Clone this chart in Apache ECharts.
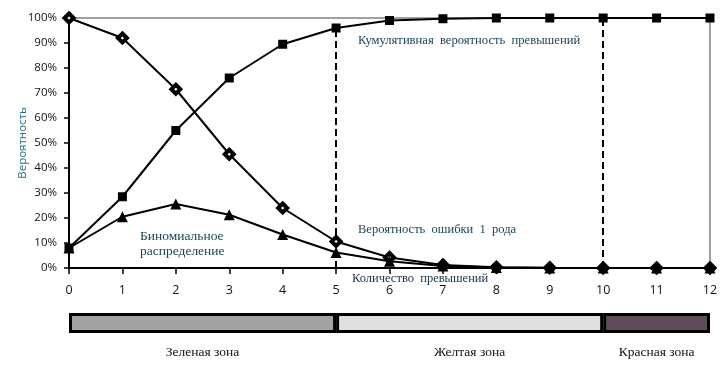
<!DOCTYPE html>
<html><head><meta charset="utf-8">
<script src="https://cdn.jsdelivr.net/npm/echarts@6/dist/echarts.min.js"></script>
<style>html,body{margin:0;padding:0;background:#fff}#c{width:727px;height:366px}</style>
</head><body><div id="c"></div>
<script>
const categories = [0,1,2,3,4,5,6,7,8,9,10,11,12];
const cumulative = [8, 28.5, 55, 76, 89.5, 96, 99, 99.7, 100, 100, 100, 100, 100];
const typeIError = [100, 92, 71.5, 45.5, 24, 10.6, 4.2, 1.2, 0.3, 0.1, 0, 0, 0];
const binomial = [8, 20.5, 25.6, 21.3, 13.4, 6.2, 2.7, 0.8, 0.2, 0.05, 0, 0, 0];
const yTicks = ['0%','10%','20%','30%','40%','50%','60%','70%','80%','90%','100%'];
const zoneNames = ['Зеленая зона', 'Желтая зона', 'Красная зона'];
const zoneWidths = [5, 5, 2];
const zoneColors = ['#a2a2a2', '#e0e0e0', '#5e4c58'];
const zoneLines = [[5, 96], [10, 100]];

const chart = echarts.init(document.getElementById('c'), null, {renderer:'canvas'});
const tickFont = {fontFamily:'Open Sans', fontSize:11.5, color:'#111'};
const annFont = 'Liberation Serif';
const annColor = '#1d4459';

function ser(name, data, symbol, size, filled){
  return {
    name, type:'line', data: categories.map((c,i)=>[c, data[i]]),
    xAxisIndex:0, yAxisIndex:0,
    symbol, symbolSize:size, showAllSymbol:true,
    lineStyle:{color:'#000', width:2},
    itemStyle: filled ? {color:'#000'} : {color:'#fff', borderColor:'#000', borderWidth:4},
    z: 5
  };
}

const series = [
  ser('cum', cumulative, 'rect', 9, true),
  ser('err', typeIError, 'diamond', 9, false),
  ser('bin', binomial, 'triangle', 11, true)
];
series[0].markLine = {
  silent:true, symbol:'none', label:{show:false},
  lineStyle:{color:'#000', type:[7,4], width:2},
  data: zoneLines.map(z=>[{coord:[z[0],0]},{coord:[z[0],z[1]]}])
};
zoneWidths.forEach((w,i)=>{
  series.push({
    type:'bar', xAxisIndex:1, yAxisIndex:1, stack:'zones', barWidth:20,
    data:[w],
    itemStyle:{color:zoneColors[i], borderColor:'#000', borderWidth:3},
    label:{show:true, position:'bottom', distance:12, formatter:zoneNames[i],
      fontFamily:annFont, fontSize:13.5, color:'#111'}
  });
});

chart.setOption({
  animation:false,
  backgroundColor:'#fff',
  grid:[
    {left:69, right:17, top:18, bottom:98, show:true, borderColor:'#a0a0a0', borderWidth:2, backgroundColor:'transparent', outerBoundsMode:'none', containLabel:false},
    {left:69, right:17, top:312, height:22, outerBoundsMode:'none', containLabel:false}
  ],
  xAxis:[
    {type:'value', gridIndex:0, min:0, max:12, interval:1,
      axisLine:{show:true, lineStyle:{color:'#000', width:2}},
      axisTick:{show:true, length:6, lineStyle:{color:'#000', width:1.5}},
      axisLabel:{...tickFont, fontSize:12.5, margin:16, formatter:v=>String(v)},
      splitLine:{show:false}},
    {type:'value', gridIndex:1, min:0, max:12, show:false}
  ],
  yAxis:[
    {type:'value', gridIndex:0, min:0, max:100, interval:10,
      name:'Вероятность', nameLocation:'middle', nameGap:40, nameRotate:90, nameMoveOverlap:false,
      nameTextStyle:{fontFamily:'Open Sans', fontSize:11.5, color:'#2d6f8c'},
      axisLine:{show:true, lineStyle:{color:'#000', width:2}},
      axisTick:{show:true, length:5, lineStyle:{color:'#000', width:1.5}},
      axisLabel:{...tickFont, margin:12, formatter:v=>yTicks[Math.round(v/10)]},
      splitLine:{show:false}},
    {type:'category', gridIndex:1, data:['z'], show:false}
  ],
  graphic:[
    {type:'text', left:358, top:34, style:{text:'Кумулятивная  вероятность  превышений', font:'12.6px "Liberation Serif"', fill:annColor}},
    {type:'text', left:358, top:223, style:{text:'Вероятность  ошибки  1  рода', font:'12.5px "Liberation Serif"', fill:annColor}},
    {type:'text', left:140, top:229, style:{text:'Биномиальное\nраспределение', font:'13.5px "Liberation Serif"', fill:annColor, lineHeight:15}},
    {type:'text', left:352, top:272, style:{text:'Количество  превышений', font:'12.5px "Liberation Serif"', fill:'#1a2f4a'}}
  ],
  series
});
</script></body></html>
